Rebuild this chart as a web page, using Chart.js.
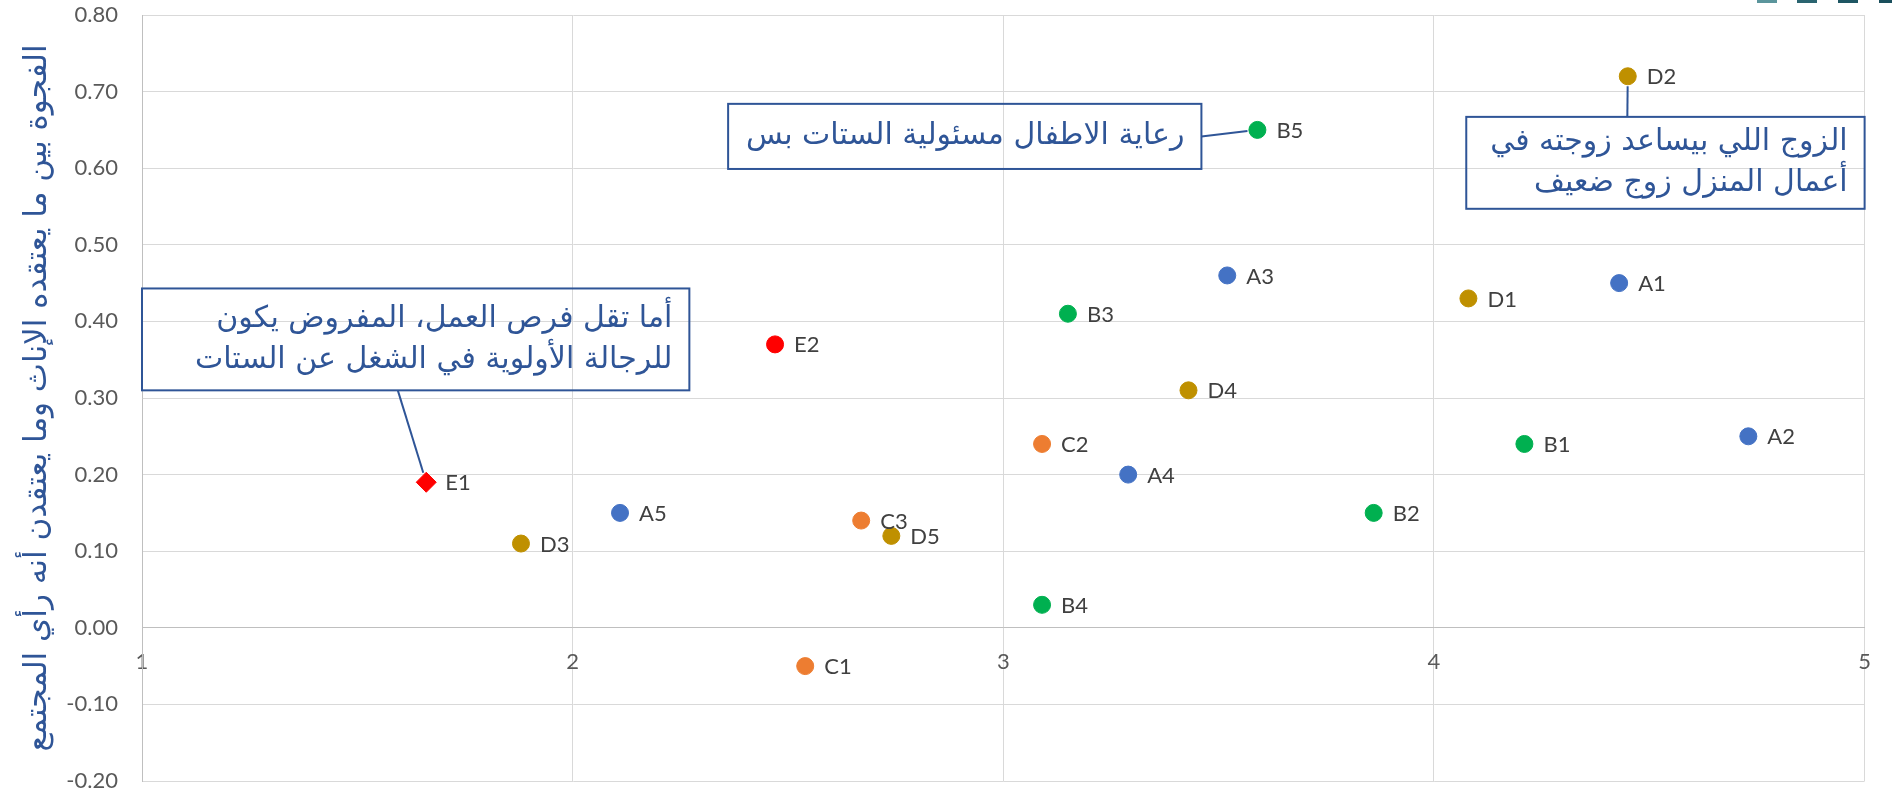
<!DOCTYPE html>
<html>
<head>
<meta charset="utf-8">
<title>Scatter - gap chart</title>
<script src="https://cdn.jsdelivr.net/npm/chart.js@4.4.0/dist/chart.umd.min.js"></script>
<style>
html, body { margin: 0; padding: 0; background: #fff; }
#wrap { position: relative; width: 1892px; height: 793px; }
</style>
</head>
<body>
<div id="wrap"><canvas id="chart"></canvas></div>
<script>
// series values
const namesA = ['A1', 'A2', 'A3', 'A4', 'A5'];
const xA = [4.43, 4.73, 3.52, 3.29, 2.11];
const yA = [0.45, 0.25, 0.46, 0.20, 0.15];

const namesB = ['B1', 'B2', 'B3', 'B4', 'B5'];
const xB = [4.21, 3.86, 3.15, 3.09, 3.59];
const yB = [0.24, 0.15, 0.41, 0.03, 0.65];

const namesC = ['C1', 'C2', 'C3'];
const xC = [2.54, 3.09, 2.67];
const yC = [-0.05, 0.24, 0.14];

const namesD = ['D1', 'D2', 'D3', 'D4', 'D5'];
const xD = [4.08, 4.45, 1.88, 3.43, 2.74];
const yD = [0.43, 0.72, 0.11, 0.31, 0.12];

const namesE = ['E1', 'E2'];
const xE = [1.66, 2.47];
const yE = [0.19, 0.37];

const yTitle = 'الفجوة بين ما يعتقده الإناث وما يعتقدن أنه رأي المجتمع';

// callout boxes, in data units: [x1, yTop, x2, yBottom]
const callouts = [
    { lines: ['رعاية الاطفال مسئولية الستات بس'], box: [2.361, 0.684, 3.460, 0.599], from: [3.460, 0.6415], to: 'B5' },
    { lines: ['الزوج اللي بيساعد زوجته في', 'أعمال المنزل زوج ضعيف'], box: [4.075, 0.667, 5.0, 0.547], from: [4.449, 0.667], to: 'D2' },
    { lines: ['أما تقل فرص العمل، المفروض يكون', 'للرجالة الأولوية في الشغل عن الستات'], box: [1.0, 0.443, 2.271, 0.310], from: [1.594, 0.310], to: 'E1' }
];

const blue = '#2F5597';
const latin = 'Lato, "DejaVu Sans", sans-serif';
const arabic = '"DejaVu Sans", sans-serif';

function pts(xs, ys) {
    return xs.map((x, i) => ({ x: x, y: ys[i] }));
}

function series(label, names, xs, ys, color, style) {
    return {
        label: label,
        names: names,
        data: pts(xs, ys),
        backgroundColor: color,
        borderColor: color,
        borderWidth: 1,
        pointRadius: style ? names.map((n, i) => style[i] === 'rectRot' ? 10 : 8.5) : 8.5,
        pointStyle: style || 'circle'
    };
}

const pointLabels = {
    id: 'pointLabels',
    afterDatasetsDraw(chart) {
        const ctx = chart.ctx;
        ctx.save();
        ctx.font = '22px ' + latin;
        ctx.fillStyle = '#404040';
        ctx.textBaseline = 'middle';
        ctx.textAlign = 'left';
        chart.data.datasets.forEach((ds, i) => {
            chart.getDatasetMeta(i).data.forEach((el, j) => {
                ctx.fillText(ds.names[j], el.x + 19, el.y + 1);
            });
        });
        ctx.restore();
    }
};

function findPoint(chart, name) {
    for (let i = 0; i < chart.data.datasets.length; i++) {
        const j = chart.data.datasets[i].names.indexOf(name);
        if (j >= 0) return chart.getDatasetMeta(i).data[j];
    }
    return null;
}

const calloutPlugin = {
    id: 'callouts',
    afterDraw(chart) {
        const ctx = chart.ctx;
        const sx = chart.scales.x, sy = chart.scales.y;
        ctx.save();
        callouts.forEach(c => {
            const x1 = sx.getPixelForValue(c.box[0]);
            const y1 = sy.getPixelForValue(c.box[1]);
            const x2 = sx.getPixelForValue(c.box[2]);
            const y2 = sy.getPixelForValue(c.box[3]);
            ctx.strokeStyle = blue;
            ctx.lineWidth = 2;
            ctx.strokeRect(x1, y1, x2 - x1, y2 - y1);

            // connector
            const fx = sx.getPixelForValue(c.from[0]);
            const fy = sy.getPixelForValue(c.from[1]);
            const p = findPoint(chart, c.to);
            if (p) {
                const dx = p.x - fx, dy = p.y - fy;
                const d = Math.sqrt(dx * dx + dy * dy);
                ctx.beginPath();
                ctx.moveTo(fx, fy);
                ctx.lineTo(p.x - dx / d * 10, p.y - dy / d * 10);
                ctx.stroke();
            }

            // text
            ctx.font = '30px ' + arabic;
            ctx.fillStyle = blue;
            ctx.direction = 'rtl';
            ctx.textAlign = 'right';
            ctx.textBaseline = 'middle';
            const lh = 41;
            const cy = (y1 + y2) / 2;
            const start = cy - (c.lines.length - 1) * lh / 2;
            c.lines.forEach((t, k) => {
                ctx.fillText(t, x2 - 17, start + k * lh);
            });
        });
        ctx.restore();

        // cropped teal strip at the top right edge
        ctx.save();
        const teal = ['#5b959c', '#2a6470', '#1e5663', '#1a4f5c'];
        [1757, 1797, 1838, 1879].forEach((x, i) => {
            ctx.fillStyle = teal[i];
            ctx.fillRect(x, 0, 20, 3);
        });
        ctx.restore();
    }
};

const ctx = document.getElementById('chart').getContext('2d');
window.chart = new Chart(ctx, {
    type: 'scatter',
    data: {
        datasets: [
            series('A', namesA, xA, yA, '#4472C4'),
            series('B', namesB, xB, yB, '#00B050'),
            series('C', namesC, xC, yC, '#ED7D31'),
            series('D', namesD, xD, yD, '#BF9000'),
            series('E', namesE, xE, yE, '#FF0000', ['rectRot', 'circle'])
        ]
    },
    options: {
        responsive: true,
        maintainAspectRatio: false,
        animation: false,
        layout: { padding: { left: 0, right: 25, top: 15, bottom: 12 } },
        plugins: {
            legend: { display: false },
            tooltip: { enabled: false }
        },
        scales: {
            x: {
                type: 'linear',
                min: 1,
                max: 5,
                position: { y: 0 },
                ticks: {
                    stepSize: 1,
                    padding: 21,
                    color: '#595959',
                    font: { family: latin, size: 22 }
                },
                grid: { color: '#D9D9D9', drawTicks: false },
                border: { color: '#BFBFBF', width: 1 },
                afterFit: s => { s.height = 0; s.paddingTop = 0; s.paddingBottom = 0; }
            },
            y: {
                type: 'linear',
                min: -0.2,
                max: 0.8,
                ticks: {
                    stepSize: 0.1,
                    padding: 24,
                    color: '#595959',
                    font: { family: latin, size: 22 },
                    callback: v => v.toFixed(2)
                },
                grid: { color: '#D9D9D9', drawTicks: false },
                border: { color: '#BFBFBF', width: 1 },
                title: {
                    display: true,
                    text: yTitle,
                    color: blue,
                    font: { family: arabic, size: 31 },
                    padding: { top: 19, bottom: 0 }
                },
                afterFit: s => { s.width = 142; s.paddingTop = 0; s.paddingBottom = 0; }
            }
        }
    },
    plugins: [pointLabels, calloutPlugin]
});
</script>
</body>
</html>
